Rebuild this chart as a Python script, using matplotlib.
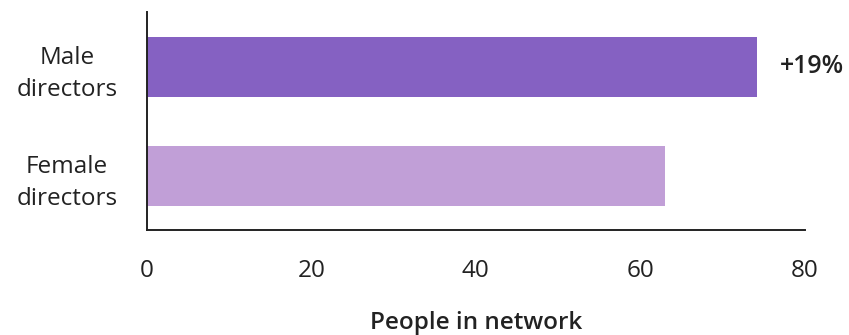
import matplotlib.pyplot as plt

plt.rcParams['font.family'] = ['Open Sans', 'DejaVu Sans']

categories = ['Female\ndirectors', 'Male\ndirectors']
network_size = [63.0, 74.2]
bar_colors = ['#C19FD7', '#8561C2']
gap_label = '+19%'
x_ticks = [0, 20, 40, 60, 80]

fig = plt.figure(figsize=(8.49, 3.35), dpi=100)
ax = fig.add_axes([0.173, 0.313, 0.775, 0.651])

ax.barh(range(len(categories)), network_size, height=0.55, color=bar_colors)

ax.set_xlim(0, 80)
ax.set_ylim(-0.5, 1.5)
ax.set_xticks(x_ticks)
ax.set_yticks(range(len(categories)))
ax.set_yticklabels(categories, multialignment='center', linespacing=1.45)
ax.tick_params(axis='x', length=0, pad=21, labelsize=17.5, colors='#222222')
ax.tick_params(axis='y', length=0, pad=21, labelsize=17.5, colors='#222222')

for side in ['top', 'right']:
    ax.spines[side].set_visible(False)
for side in ['left', 'bottom']:
    ax.spines[side].set_color('#222222')
    ax.spines[side].set_linewidth(1.4)

ax.set_xlabel('People in network', fontsize=17.5, fontweight='semibold',
              color='#222222', labelpad=20)

ax.text(77, 1, gap_label, ha='left', va='center', fontsize=18,
        fontweight='semibold', color='#222222', clip_on=False)

fig.savefig('out.png', dpi=100)
